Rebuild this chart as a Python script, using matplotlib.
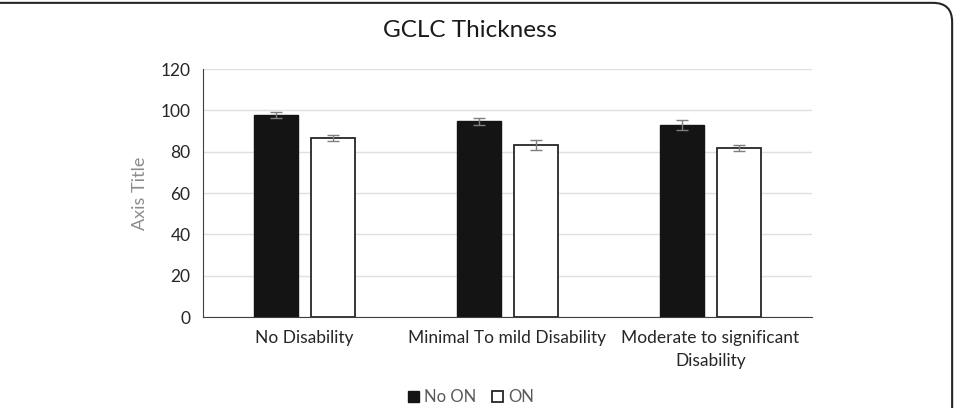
import numpy as np
import matplotlib.pyplot as plt
from matplotlib.patches import Patch, FancyBboxPatch

categories = ["No Disability", "Minimal To mild Disability", "Moderate to significant\nDisability"]
no_on = [97.6, 94.7, 93.0]
no_on_err = [1.5, 1.6, 2.3]
on = [86.7, 83.2, 81.8]
on_err = [1.3, 2.4, 1.6]

plt.rcParams['font.family'] = ['Lato', 'DejaVu Sans']

fig = plt.figure(figsize=(9.55, 4.08), dpi=100)
ax = fig.add_axes([0.2126, 0.223, 0.6377, 0.6078])

x = np.arange(len(categories))
w = 0.22
gap = 0.06
ax.bar(x - (w + gap) / 2, no_on, w, color='#141414', edgecolor='#141414', zorder=3, label='No ON')
ax.bar(x + (w + gap) / 2, on, w, color='white', edgecolor='#262626', linewidth=1.3, zorder=3, label='ON')
ax.errorbar(x - (w + gap) / 2, no_on, yerr=no_on_err, fmt='none', ecolor='#7f7f7f',
            elinewidth=1, capsize=4.5, capthick=1, zorder=4)
ax.errorbar(x + (w + gap) / 2, on, yerr=on_err, fmt='none', ecolor='#7f7f7f',
            elinewidth=1, capsize=4.5, capthick=1, zorder=4)

ax.set_xlim(-0.5, 2.5)
ax.set_ylim(0, 120)
ax.set_yticks(range(0, 121, 20))
ax.set_xticks(x)
ax.set_xticklabels(categories, fontsize=12.5, color='#262626', linespacing=1.6)
ax.tick_params(axis='y', labelsize=12.5, colors='#262626', length=0, pad=9)
ax.tick_params(axis='x', length=0, pad=9)
ax.grid(axis='y', color='#e0e0e0', linewidth=1, zorder=0)
for s in ['top', 'right']:
    ax.spines[s].set_visible(False)
ax.spines['left'].set_color('#404040')
ax.spines['bottom'].set_color('#404040')
ax.set_ylabel("Axis Title", fontsize=13, color='#8c8c8c', labelpad=9)

fig.text(0.492, 0.925, "GCLC Thickness", ha='center', va='center', fontsize=17.5, color='#1a1a1a')

handles = [Patch(facecolor='#141414', edgecolor='#141414', label='No ON'),
           Patch(facecolor='white', edgecolor='#262626', linewidth=1.3, label='ON')]
fig.legend(handles=handles, loc='upper center', bbox_to_anchor=(0.493, 0.07), ncol=2,
           frameon=False, fontsize=12, handlelength=0.7, handleheight=0.7,
           handletextpad=0.3, columnspacing=0.9, labelcolor='#595959', borderpad=0.1)

border = FancyBboxPatch((-0.05, -0.1), 1.047, 1.093, boxstyle="round,pad=0,rounding_size=0.02",
                        transform=fig.transFigure, facecolor='none', edgecolor='#262626',
                        linewidth=1.5, mutation_aspect=955/408)
fig.patches.append(border)

fig.savefig("out.png", dpi=100)
